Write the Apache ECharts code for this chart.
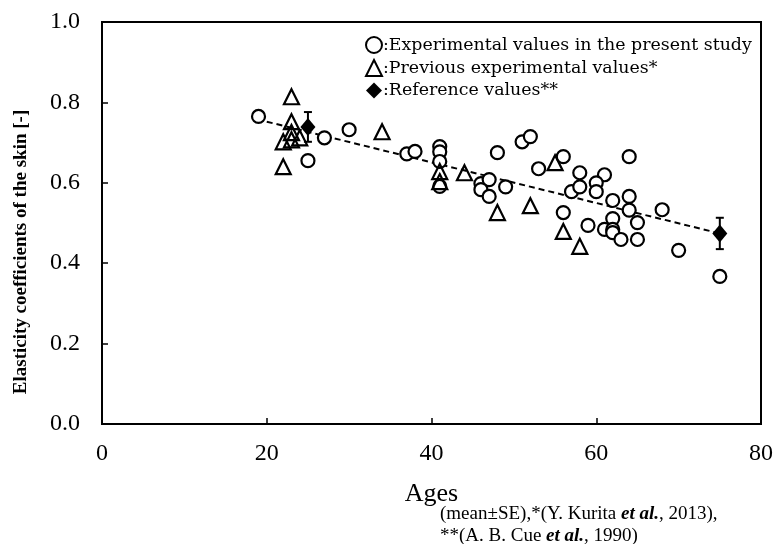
<!DOCTYPE html>
<html>
<head>
<meta charset="utf-8">
<script src="https://cdn.jsdelivr.net/npm/echarts@6/dist/echarts.min.js"></script>
<style>html,body{margin:0;padding:0;background:#fff}#c{width:776px;height:544px}</style>
</head>
<body>
<div id="c"></div>
<script>
// Experimental values in the present study (circles)
var presentAges   = [19, 25, 27, 30, 37, 38, 41, 41, 41, 41, 46, 47, 46, 47, 49, 48, 51, 52, 53, 56, 57, 56, 64, 58, 61, 60, 58, 60, 62, 64, 64, 68, 65, 62, 59, 61, 62, 62, 63, 65, 70, 75];
var presentValues = [0.765, 0.655, 0.712, 0.732, 0.672, 0.678, 0.690, 0.677, 0.653, 0.591, 0.598, 0.608, 0.583, 0.566, 0.590, 0.675, 0.702, 0.715, 0.635, 0.665, 0.578, 0.526, 0.665, 0.625, 0.620, 0.600, 0.590, 0.578, 0.556, 0.566, 0.532, 0.533, 0.501, 0.511, 0.494, 0.484, 0.484, 0.476, 0.459, 0.459, 0.432, 0.367];
// Previous experimental values (triangles)
var previousAges   = [23, 23, 23, 22, 23, 24, 22, 34, 41, 41, 44, 48, 52, 55, 56, 58];
var previousValues = [0.814, 0.752, 0.725, 0.702, 0.707, 0.712, 0.640, 0.727, 0.628, 0.603, 0.625, 0.526, 0.543, 0.650, 0.479, 0.442];
// Reference values (diamonds) with SE
var referenceAges   = [25, 75];
var referenceValues = [0.739, 0.474];
var referenceSE     = [0.037, 0.039];
// Dashed trend line end points
var trendAges   = [20, 75];
var trendValues = [0.752, 0.474];
// Axis ticks
var xTicks = [0, 20, 40, 60, 80];
var yTicks = [0.0, 0.2, 0.4, 0.6, 0.8, 1.0];

function zip(a, b) { return a.map(function (v, i) { return [v, b[i]]; }); }

var serif = 'Liberation Serif';
var wide = 'DejaVu Serif';
var chart = echarts.init(document.getElementById('c'));
chart.setOption({
  animation: false,
  backgroundColor: '#fff',
  grid: { left: 102, right: 15, top: 22, bottom: 120, show: true, borderColor: '#000', borderWidth: 2 },
  legend: {
    orient: 'vertical', left: 360, top: 31, itemGap: 5, itemWidth: 16, itemHeight: 16,
    formatter: ':{name}',
    textStyle: { fontFamily: wide, fontSize: 17.4, color: '#000', padding: [0, 0, 0, -4] },
    data: ['Experimental values in the present study', 'Previous experimental values*', 'Reference values**']
  },
  xAxis: {
    type: 'value', min: xTicks[0], max: xTicks[xTicks.length - 1], interval: 20,
    name: 'Ages', nameLocation: 'middle', nameGap: 57,
    nameTextStyle: { fontFamily: serif, fontSize: 26, color: '#000' },
    axisLine: { lineStyle: { color: '#000', width: 2 } },
    axisTick: { inside: true, length: 6, lineStyle: { color: '#000', width: 1.5 } },
    axisLabel: { fontFamily: serif, fontSize: 24, color: '#000', margin: 18 },
    splitLine: { show: false }
  },
  yAxis: {
    type: 'value', min: yTicks[0], max: yTicks[yTicks.length - 1], interval: 0.2,
    axisLine: { lineStyle: { color: '#000', width: 2 } },
    axisTick: { inside: true, length: 6, lineStyle: { color: '#000', width: 1.5 } },
    axisLabel: { fontFamily: serif, fontSize: 24, color: '#000', margin: 22, formatter: function (v) { return v.toFixed(1); } },
    splitLine: { show: false }
  },
  graphic: [{
    type: 'text', x: 21, y: 252, rotation: Math.PI / 2,
    style: {
      text: 'Elasticity coefficients of the skin [-]',
      font: 'bold 19px "Liberation Serif"', fill: '#000', textAlign: 'center', textVerticalAlign: 'middle'
    }
  }, {
    type: 'text', left: 440, top: 503,
    style: {
      text: '(mean\u00b1SE),*(Y. Kurita {i|et al.}, 2013),\n**(A. B. Cue {i|et al.}, 1990)',
      font: '19px "Liberation Serif"', fill: '#000', lineHeight: 22,
      rich: { i: { fontFamily: serif, fontSize: 19, fontStyle: 'italic', fontWeight: 'bold', fill: '#000' } }
    }
  }],
  series: [
    {
      type: 'line', data: zip(trendAges, trendValues), symbol: 'none', silent: true,
      lineStyle: { color: '#000', width: 2, type: [6, 4] }, z: 1
    },
    {
      name: 'Experimental values in the present study', type: 'scatter', symbol: 'circle', symbolSize: 13,
      data: zip(presentAges, presentValues),
      itemStyle: { color: '#fff', borderColor: '#000', borderWidth: 2.2, opacity: 1 }, z: 3
    },
    {
      name: 'Previous experimental values*', type: 'scatter', symbol: 'triangle', symbolSize: 15,
      data: zip(previousAges, previousValues),
      itemStyle: { color: 'rgba(255,255,255,0)', borderColor: '#000', borderWidth: 2.2, opacity: 1 }, z: 3
    },
    {
      type: 'custom', silent: true, z: 4,
      data: referenceAges.map(function (a, i) { return [a, referenceValues[i] - referenceSE[i], referenceValues[i] + referenceSE[i]]; }),
      renderItem: function (params, api) {
        var lo = api.coord([api.value(0), api.value(1)]);
        var hi = api.coord([api.value(0), api.value(2)]);
        var w = 4;
        var st = { stroke: '#000', lineWidth: 2 };
        return { type: 'group', children: [
          { type: 'line', shape: { x1: lo[0], y1: lo[1], x2: hi[0], y2: hi[1] }, style: st },
          { type: 'line', shape: { x1: lo[0] - w, y1: lo[1], x2: lo[0] + w, y2: lo[1] }, style: st },
          { type: 'line', shape: { x1: hi[0] - w, y1: hi[1], x2: hi[0] + w, y2: hi[1] }, style: st }
        ]};
      }
    },
    {
      name: 'Reference values**', type: 'scatter', symbol: 'diamond', symbolSize: [15, 18],
      data: zip(referenceAges, referenceValues),
      itemStyle: { color: '#000', opacity: 1 }, z: 5
    }
  ]
});
</script>
</body>
</html>
